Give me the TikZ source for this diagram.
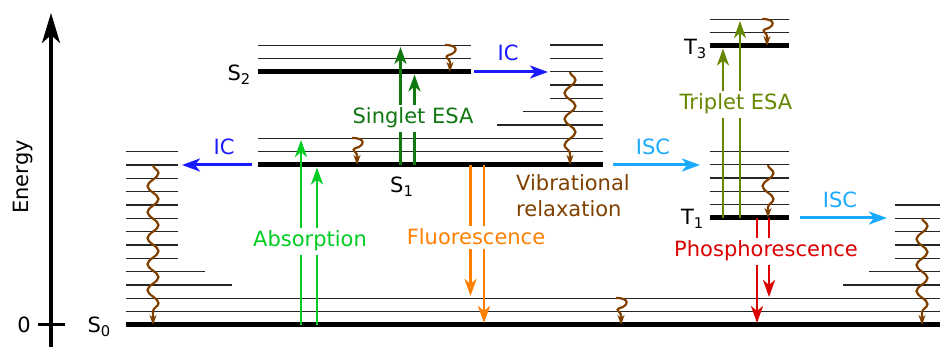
\documentclass[tikz,border=0pt]{standalone}
\usepackage{fontspec}
\setmainfont{DejaVu Sans}
\usetikzlibrary{arrows.meta,decorations.pathmorphing}
\definecolor{cIC}{RGB}{26,26,255}
\definecolor{cISC}{RGB}{26,170,255}
\definecolor{cSESA}{RGB}{17,119,17}
\definecolor{cAbs}{RGB}{0,204,34}
\definecolor{cFl}{RGB}{255,128,0}
\definecolor{cVR}{RGB}{128,64,0}
\definecolor{cTESA}{RGB}{102,136,0}
\definecolor{cPh}{RGB}{221,0,0}
\newcommand\squig[3]{%
  \draw[sq] (#1-5,#2) .. controls (#1+10,#2) and (#1+7,#2+8) .. (#1-1,#2+10)
    .. controls (#1-7,#2+12) and (#1,#2+14) .. (#1,#2+17) -- (#1,#3);}
\begin{document}
\begin{tikzpicture}[x=1pt,y=-1pt,
  font=\fontsize{21}{26}\selectfont,
  lev/.style={line width=1.5pt,black!85},
  blev/.style={line width=5pt,black},
  tr/.style={line width=2.8pt,-{Stealth[length=17pt,width=12pt,inset=5pt]}},
  htr/.style={line width=3pt,-{Stealth[length=18pt,width=13pt,inset=5pt]}},
  lbl/.style={fill=white,inner xsep=3pt,inner ysep=3.5pt,anchor=base},
  wav/.style={cVR,line width=2.2pt,-{Stealth[length=10pt,width=7pt,inset=3pt]},
    decorate,decoration={snake,amplitude=5.5pt,segment length=26pt,post length=10pt}},
  sq/.style={cVR,line width=2.2pt,-{Stealth[length=10pt,width=7pt,inset=3pt]}}]
\useasboundingbox (0,0) rectangle (940,347);

% ---- energy axis ----
\coordinate (axb) at (51,347);
\coordinate (axt) at (51,13);
\draw[line width=3.5pt,-{Stealth[length=30pt,width=18pt,inset=8pt]}] (axb) -- (axt);
\draw[line width=3pt] (38,325) -- (65,325);
\node[anchor=base east,inner sep=0] (zero) at (31,333) {0};
\node[anchor=base,rotate=90,inner sep=0] (energy) at (28,177) {Energy};

% ---- S0 manifold ----
\draw[lev] (126,{325-13.333}) -- (940,{325-13.333});
\draw[lev] (126,{325-2*13.333}) -- (940,{325-2*13.333});
\draw[lev] (126,{325-3*13.333}) -- (232,{325-3*13.333});
\draw[lev] (126,{325-4*13.333}) -- (205,{325-4*13.333});
\foreach \k in {5,...,13} \draw[lev] (126,{325-13.333*\k}) -- (178,{325-13.333*\k});
\draw[lev] (843,{325-3*13.333}) -- (940,{325-3*13.333});
\draw[lev] (869,{325-4*13.333}) -- (940,{325-4*13.333});
\foreach \k in {5,...,9} \draw[lev] (895,{325-13.333*\k}) -- (940,{325-13.333*\k});
\draw[blev] (126,325) -- (940,325);
\node[anchor=base east,inner sep=0] (S0) at (111,333) {S\textsubscript{0}};

% ---- S1 manifold ----
\draw[lev] (258,{165-13.333}) -- (603,{165-13.333});
\draw[lev] (258,{165-2*13.333}) -- (603,{165-2*13.333});
\draw[lev] (497,{165-3*13.333}) -- (603,{165-3*13.333});
\draw[lev] (523,{165-4*13.333}) -- (603,{165-4*13.333});
\foreach \k in {5,...,9} \draw[lev] (550,{165-13.333*\k}) -- (603,{165-13.333*\k});
\draw[blev] (258,165) -- (603,165);
\node[anchor=base west,inner sep=0] (S1) at (390,193) {S\textsubscript{1}};

% ---- S2 manifold ----
\draw[lev] (258,{72-13.333}) -- (471,{72-13.333});
\draw[lev] (258,{72-2*13.333}) -- (471,{72-2*13.333});
\draw[blev] (258,72) -- (471,72);
\node[anchor=base east,inner sep=0] (S2) at (251,81) {S\textsubscript{2}};

% ---- T1 manifold ----
\foreach \k in {1,...,5} \draw[lev] (710,{218-13.333*\k}) -- (789,{218-13.333*\k});
\draw[blev] (710,218) -- (789,218);
\node[anchor=base east,inner sep=0] (T1) at (704,225) {T\textsubscript{1}};

% ---- T3 manifold ----
\draw[lev] (710,{46-13.333}) -- (789,{46-13.333});
\draw[lev] (710,{46-2*13.333}) -- (789,{46-2*13.333});
\draw[blev] (710,46) -- (789,46);
\node[anchor=base east,inner sep=0] (T3) at (707,55) {T\textsubscript{3}};

% ---- vibrational relaxation ----
\coordinate (w1a) at (153,165); \coordinate (w1b) at (153,325);
\coordinate (w2a) at (570,72);  \coordinate (w2b) at (570,165);
\coordinate (w3a) at (922,218); \coordinate (w3b) at (922,325);
\coordinate (w4a) at (768,165); \coordinate (w4b) at (768,218);
\draw[wav] (w1a) -- (w1b);
\draw[wav] (w2a) -- (w2b);
\draw[wav] (w3a) -- (w3b);
\draw[wav] (w4a) -- (w4b);
\squig{450}{45}{72}
\squig{357}{138}{165}
\squig{767}{19}{46}
\squig{621}{298}{325}
\node[anchor=north west,align=left,inner sep=0,text=cVR] (vr) at (516,174) {Vibrational\\relaxation};

% ---- absorption ----
\coordinate (ab1s) at (301,325); \coordinate (ab1e) at (301,140);
\coordinate (ab2s) at (317,325); \coordinate (ab2e) at (317,167.5);
\draw[tr,cAbs] (ab1s) -- (ab1e);
\draw[tr,cAbs] (ab2s) -- (ab2e);
\node[lbl,text=cAbs] (abs) at (310,247) {Absorption};

% ---- fluorescence ----
\coordinate (fl1s) at (470.5,165); \coordinate (fl1e) at (470.5,296);
\coordinate (fl2s) at (484,165);   \coordinate (fl2e) at (484,323);
\draw[tr,cFl] (fl1s) -- (fl1e);
\draw[tr,cFl] (fl2s) -- (fl2e);
\node[lbl,text=cFl] (fl) at (476,245) {Fluorescence};

% ---- singlet ESA ----
\coordinate (se1s) at (400.5,165); \coordinate (se1e) at (400.5,47);
\coordinate (se2s) at (414.5,165); \coordinate (se2e) at (414.5,74.5);
\draw[tr,cSESA] (se1s) -- (se1e);
\draw[tr,cSESA] (se2s) -- (se2e);
\node[lbl,text=cSESA] (sesa) at (413,124) {Singlet ESA};

% ---- triplet ESA ----
\coordinate (te1s) at (723,218); \coordinate (te1e) at (723,48.5);
\coordinate (te2s) at (740,218); \coordinate (te2e) at (740,21);
\draw[tr,cTESA] (te1s) -- (te1e);
\draw[tr,cTESA] (te2s) -- (te2e);
\node[lbl,text=cTESA] (tesa) at (736,110) {Triplet ESA};

% ---- phosphorescence ----
\coordinate (ph1s) at (757,218); \coordinate (ph1e) at (757,323);
\coordinate (ph2s) at (769,218); \coordinate (ph2e) at (769,297);
\draw[tr,cPh] (ph1s) -- (ph1e);
\draw[tr,cPh] (ph2s) -- (ph2e);
\node[lbl,text=cPh] (ph) at (766,257) {Phosphorescence};

% ---- IC / ISC ----
\coordinate (ic1s) at (252,165); \coordinate (ic1e) at (182,165);
\coordinate (ic2s) at (474,72);  \coordinate (ic2e) at (548,72);
\coordinate (is1s) at (613,165); \coordinate (is1e) at (700,165);
\coordinate (is2s) at (800,218); \coordinate (is2e) at (887,218);
\draw[htr,cIC] (ic1s) -- (ic1e);
\draw[htr,cIC] (ic2s) -- (ic2e);
\draw[htr,cISC] (is1s) -- (is1e);
\draw[htr,cISC] (is2s) -- (is2e);
\node[anchor=base,inner sep=0,text=cIC] (icl) at (224,155) {IC};
\node[anchor=base,inner sep=0,text=cIC] (ict) at (508,61) {IC};
\node[anchor=base,inner sep=0,text=cISC] (isc1) at (653,155) {ISC};
\node[anchor=base,inner sep=0,text=cISC] (isc2) at (840,208) {ISC};
\end{tikzpicture}
\end{document}
